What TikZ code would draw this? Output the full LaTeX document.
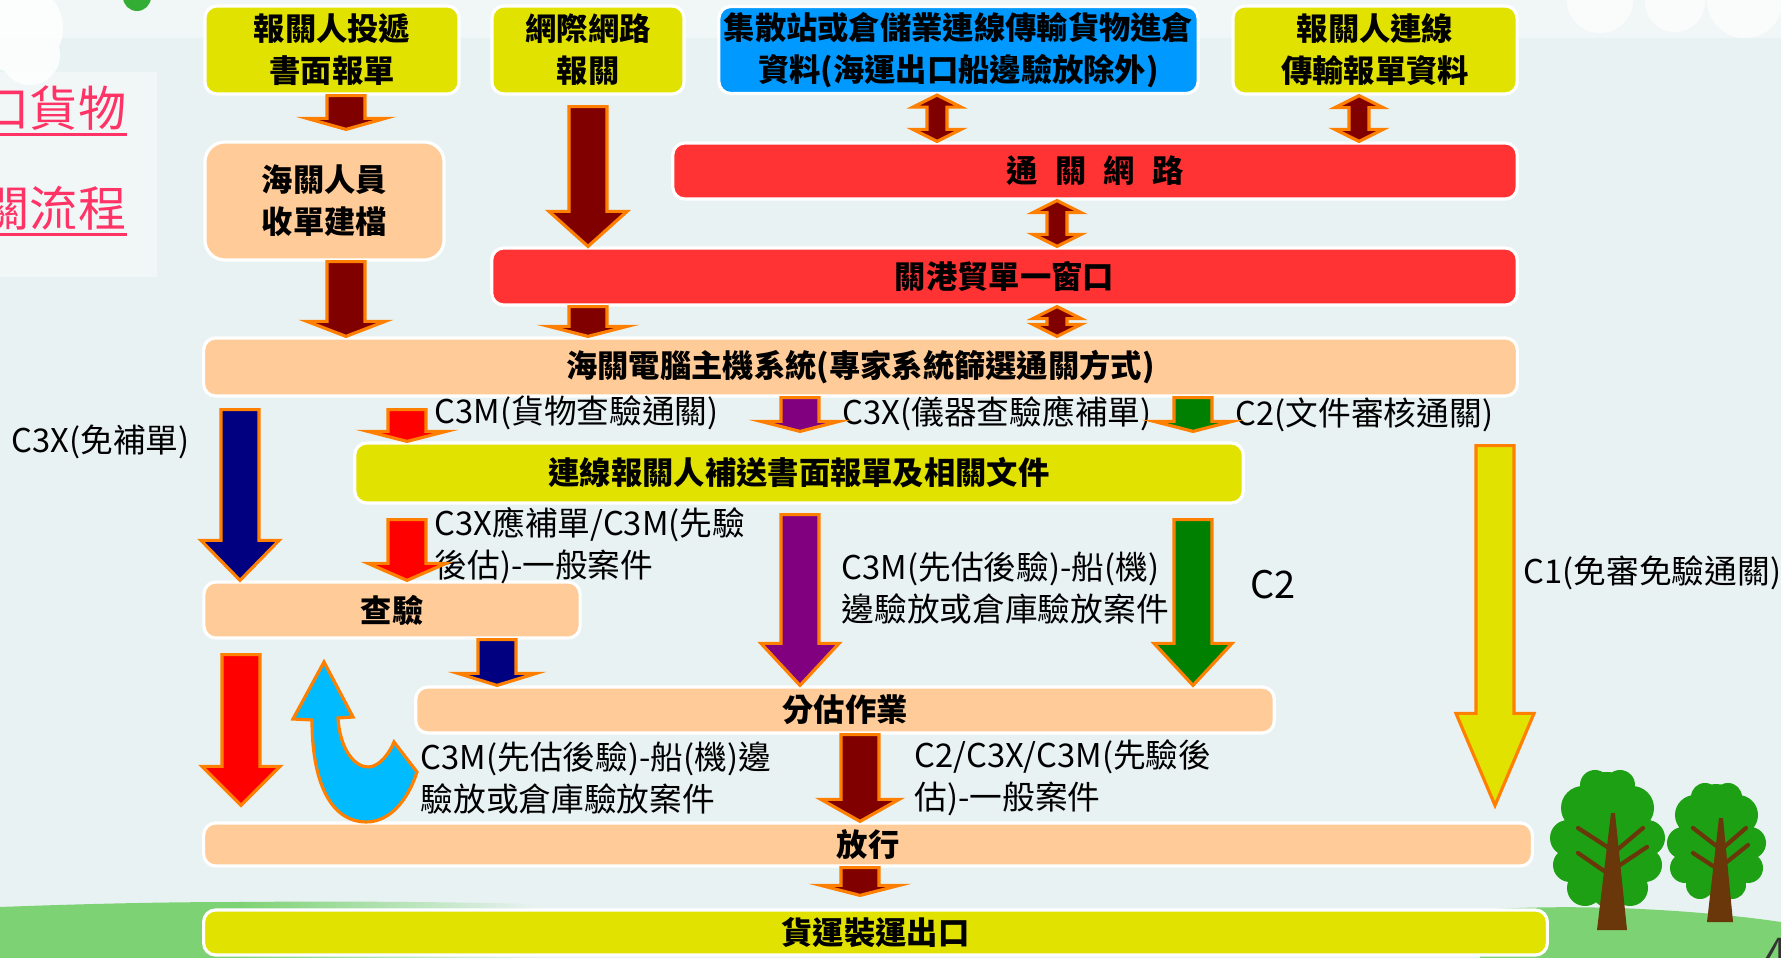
\documentclass[tikz,border=0pt]{standalone}
\usepackage{fontspec}
\usepackage{tikz}
\usetikzlibrary{positioning, calc}
\newfontfamily\cjk{Noto Sans CJK TC}

\definecolor{bgblue}{RGB}{233,242,243}
\definecolor{bgtop}{RGB}{241,247,247}
\definecolor{boxyellow}{RGB}{226,226,0}
\definecolor{boxpeach}{RGB}{255,204,153}
\definecolor{boxred}{RGB}{255,51,51}
\definecolor{boxblue}{RGB}{0,153,255}
\definecolor{edgeorange}{RGB}{255,128,0}
\definecolor{darkred}{RGB}{128,0,0}
\definecolor{navyblue}{RGB}{0,0,128}
\definecolor{purplearrow}{RGB}{128,0,128}
\definecolor{greenarrow}{RGB}{0,128,0}
\definecolor{redarrow}{RGB}{255,0,0}
\definecolor{skyarrow}{RGB}{0,187,255}
\definecolor{titlepink}{RGB}{255,51,102}
\definecolor{hillgreen}{RGB}{125,210,115}
\definecolor{leafgreen}{RGB}{30,160,20}
\definecolor{trunkbrown}{RGB}{105,55,10}

\tikzset{
  box/.style={draw=white, line width=0.9pt, rounded corners=0.12cm, align=center,
    font=\cjk\bfseries\fontsize{8.9}{12}\selectfont},
  yellowbox/.style={box, fill=boxyellow},
  peachbox/.style={box, fill=boxpeach},
  redbox/.style={box, fill=boxred},
  bluebox/.style={box, fill=boxblue},
  fatedge/.style={draw=edgeorange, line width=0.9pt, line join=miter},
  lbl/.style={anchor=west, align=left, font=\cjk\fontsize{9.3}{12}\selectfont},
}

% block arrow: fill, head length, top point, tip point
\newcommand{\fatarrow}[4]{%
  \path #3 coordinate (fa-top) #4 coordinate (fa-tip);
  \filldraw[fill=#1, fatedge] ($(fa-top)+(-19,0)$) -- ($(fa-tip)+(-19,-#2)$)
    -- ($(fa-tip)+(-39,-#2)$) -- (fa-tip) -- ($(fa-tip)+(39,-#2)$)
    -- ($(fa-tip)+(19,-#2)$) -- ($(fa-top)+(19,0)$) -- cycle;
}
% two-headed block arrow between two points
\newcommand{\twinarrow}[2]{%
  \path #1 coordinate (ta-top) #2 coordinate (ta-bot);
  \filldraw[fill=darkred, fatedge] (ta-top) -- ($(ta-top)+(24,12)$) -- ($(ta-top)+(10,12)$)
    -- ($(ta-bot)+(10,-12)$) -- ($(ta-bot)+(24,-12)$) -- (ta-bot) -- ($(ta-bot)+(-24,-12)$)
    -- ($(ta-bot)+(-10,-12)$) -- ($(ta-top)+(-10,12)$) -- ($(ta-top)+(-24,12)$) -- cycle;
}

\begin{document}
\begin{tikzpicture}[x=0.01cm, y=-0.01cm,
    every node/.style={font=\cjk\fontsize{8.9}{12}\selectfont, inner sep=0pt}]
    \useasboundingbox (0,0) rectangle (1781,958);

    % background
    \fill[bgblue] (0,0) rectangle (1781,958);
    \fill[bgtop] (0,0) rectangle (1781,38);
    \fill[bgtop] (0,72) rectangle (157,277);
    \fill[white, opacity=0.85] (18,28) circle (0.45cm) (30,55) circle (0.3cm);
    \fill[white, opacity=0.7] (1600,0) circle (0.33cm) (1675,2) circle (0.3cm) (1745,0) circle (0.38cm);
    \fill[green!60!black!80] (137,-3) circle (0.14cm);
    \fill[hillgreen] (0,958) -- (0,907) .. controls (80,904) and (160,902) .. (240,902) -- (240,958) -- cycle;
    \shade[left color=hillgreen, right color=bgblue] (239,902) .. controls (350,901) and (450,902) .. (540,904) -- (540,958) -- (239,958) -- cycle;
    \fill[hillgreen] (1480,958) -- (1480,910) .. controls (1580,903) and (1700,910) .. (1781,922) -- (1781,958) -- cycle;

    % trees
    \fill[leafgreen] (1607,800) circle (0.28cm) (1583,808) circle (0.22cm) (1632,808) circle (0.22cm)
      (1568,838) circle (0.18cm) (1647,838) circle (0.18cm) (1570,865) circle (0.17cm)
      (1645,865) circle (0.17cm) (1585,888) circle (0.18cm) (1630,888) circle (0.18cm)
      (1607,892) circle (0.15cm) (1607,845) circle (0.4cm) (1595,785) circle (0.15cm) (1620,785) circle (0.15cm);
    \fill[leafgreen] (1716,810) circle (0.26cm) (1695,815) circle (0.2cm) (1738,815) circle (0.2cm)
      (1683,843) circle (0.16cm) (1750,843) circle (0.16cm) (1685,868) circle (0.15cm)
      (1748,868) circle (0.15cm) (1700,885) circle (0.14cm) (1732,885) circle (0.14cm)
      (1716,848) circle (0.35cm) (1705,797) circle (0.14cm) (1728,797) circle (0.14cm);
    \fill[trunkbrown] (1597,930) -- (1611,813) -- (1615,813) -- (1627,930) -- cycle;
    \fill[trunkbrown] (1707,922) -- (1719,818) -- (1723,818) -- (1733,922) -- cycle;
    \draw[trunkbrown, line width=1.2pt, line cap=round]
      (1612,850) -- (1578,828) (1607,873) -- (1578,853) (1617,850) -- (1643,828) (1617,867) -- (1647,847)
      (1719,848) -- (1693,828) (1716,868) -- (1693,853) (1723,848) -- (1746,828) (1723,865) -- (1748,845);

    % title
    \node[anchor=east, text=titlepink, font=\cjk\fontsize{13.7}{16}\selectfont] (ttl1) at (127,108) {口貨物};
    \node[anchor=east, text=titlepink, font=\cjk\fontsize{13.7}{16}\selectfont] (ttl2) at (127,208) {關流程};
    \draw[titlepink, line width=0.9pt] ([yshift=-1pt]ttl1.south west) -- ([yshift=-1pt]ttl1.south east);
    \draw[titlepink, line width=0.9pt] ([yshift=-1pt]ttl2.south west) -- ([yshift=-1pt]ttl2.south east);

    % boxes
    \node[yellowbox, minimum width=2.54cm, minimum height=0.88cm] (decl) at (332,50) {報關人投遞\\書面報單};
    \node[yellowbox, minimum width=1.92cm, minimum height=0.88cm] (net) at (588,50) {網際網路\\報關};
    \node[bluebox, minimum width=4.79cm, minimum height=0.87cm] (depot) at (958.5,50) {集散站或倉儲業連線傳輸貨物進倉\\資料(海運出口船邊驗放除外)};
    \node[yellowbox, minimum width=2.84cm, minimum height=0.88cm] (online) at (1375,50) {報關人連線\\傳輸報單資料};
    \node[redbox, minimum width=8.44cm, minimum height=0.56cm] (cnet) at (1095,171) {通\hspace{.55em}關\hspace{.55em}網\hspace{.55em}路};
    \node[peachbox, rounded corners=0.2cm, minimum width=2.39cm, minimum height=1.18cm] (staff) at (324.5,201) {海關人員\\收單建檔};
    \node[redbox, minimum width=10.25cm, minimum height=0.57cm] (window) at (1004.5,276.5) {關港貿單一窗口};
    \node[peachbox, minimum width=13.13cm, minimum height=0.58cm] (host) at (860.5,367) {海關電腦主機系統(專家系統篩選通關方式)};
    \node[yellowbox, minimum width=8.88cm, minimum height=0.6cm] (resend) at (799,473) {連線報關人補送書面報單及相關文件};
    \node[peachbox, minimum width=3.76cm, minimum height=0.56cm] (inspect) at (392,610) {查驗};
    \node[peachbox, minimum width=8.58cm, minimum height=0.46cm] (assess) at (845,710) {分估作業};
    \node[peachbox, minimum width=13.28cm, minimum height=0.43cm] (release) at (868,844.5) {放行};
    \node[yellowbox, minimum width=13.43cm, minimum height=0.45cm] (ship) at (875.5,932.5) {貨運裝運出口};

    % labels
    \node[lbl] (c3xfree) at (11,442) {C3X(免補單)};
    \node[lbl] (c3mgoods) at (434,413) {C3M(貨物查驗通關)};
    \node[lbl] (c3xinst) at (842,414) {C3X(儀器查驗應補單)};
    \node[lbl] (c2doc) at (1235,415) {C2(文件審核通關)};
    \node[lbl] (c3xpaper) at (434,546) {C3X應補單/C3M(先驗\\後估)-一般案件};
    \node[lbl] (c3mship) at (841,588) {C3M(先估後驗)-船(機)\\邊驗放或倉庫驗放案件};
    \node[lbl, font=\cjk\fontsize{10.8}{13}\selectfont] (c2big) at (1250,585) {C2};
    \node[lbl] (c1free) at (1523,573) {C1(免審免驗通關)};
    \node[lbl] (c3mback) at (420,778) {C3M(先估後驗)-船(機)邊\\驗放或倉庫驗放案件};
    \node[lbl] (afterrel) at (914,778) {C2/C3X/C3M(先驗後\\估)-一般案件};

    % arrows
    \fatarrow{darkred}{11}{(346,0 |- decl.south)}{($(346,0 |- staff.north)+(0,-11)$)}
    \fatarrow{darkred}{15}{(346,0 |- staff.south)}{(346,0 |- host.north)}
    \fatarrow{darkred}{35}{($(588,0 |- net.south)+(0,11)$)}{(588,0 |- window.north)}
    \fatarrow{darkred}{10}{(588,0 |- window.south)}{(588,0 |- host.north)}
    \twinarrow{(937,0 |- depot.south)}{(937,0 |- cnet.north)}
    \twinarrow{(1359,0 |- online.south)}{(1359,0 |- cnet.north)}
    \twinarrow{(1057,0 |- cnet.south)}{(1057,0 |- window.north)}
    \twinarrow{(1057,0 |- window.south)}{(1057,0 |- host.north)}

    \fatarrow{navyblue}{40}{($(240,0 |- host.south)+(0,12)$)}{(240,0 |- inspect.north)}
    \fatarrow{redarrow}{10}{($(407,0 |- host.south)+(0,12)$)}{(407,0 |- resend.north)}
    \fatarrow{purplearrow}{10}{(800,0 |- host.south)}{($(800,0 |- resend.north)+(0,-10)$)}
    \fatarrow{greenarrow}{10}{(1193,0 |- host.south)}{($(1193,0 |- resend.north)+(0,-10)$)}
    \fatarrow{redarrow}{17}{($(407,0 |- resend.south)+(0,15)$)}{(407,0 |- inspect.north)}
    \fatarrow{purplearrow}{42}{($(800,0 |- resend.south)+(0,10)$)}{(800,0 |- assess.north)}
    \fatarrow{greenarrow}{42}{($(1193,0 |- resend.south)+(0,15)$)}{(1193,0 |- assess.north)}
    \fatarrow{boxyellow}{92}{($(1495,0 |- host.south)+(0,48)$)}{($(1495,0 |- release.north)+(0,-16)$)}
    \fatarrow{navyblue}{12}{(497,0 |- inspect.south)}{(497,0 |- assess.north)}
    \fatarrow{redarrow}{39}{($(241,0 |- inspect.south)+(0,15)$)}{($(241,0 |- release.north)+(0,-16)$)}
    \fatarrow{darkred}{22}{(860,0 |- assess.south)}{(860,0 |- release.north)}
    \fatarrow{darkred}{10}{(860,0 |- release.south)}{($(860,0 |- ship.north)+(0,-13)$)}

    % turning arrow back up to the inspection
    \filldraw[fill=skyarrow, fatedge] (324,662) -- (353,717) -- (338,718)
      .. controls (340,750) and (355,767) .. (368,767)
      .. controls (380,767) and (390,752) .. (394,742) -- (417,772)
      .. controls (408,800) and (390,822) .. (366,822)
      .. controls (335,822) and (312,790) .. (312,720) -- (293,719) -- cycle;

    \node[anchor=north west, text=black!80, font=\sffamily\fontsize{14}{16}\selectfont] (pageno) at (1764,938) {4};
\end{tikzpicture}
\end{document}
